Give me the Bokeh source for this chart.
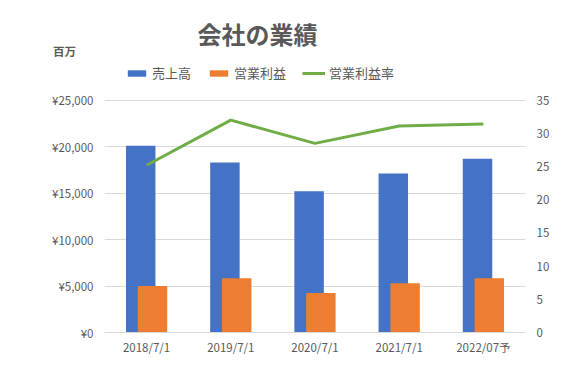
from bokeh.plotting import figure
from bokeh.models import (ColumnDataSource, FactorRange, Range1d, LinearAxis, FixedTicker,
                          Legend, LegendItem, Label, CustomJSTickFormatter)
from bokeh.layouts import column
from bokeh.transform import dodge
from bokeh.embed import file_html
from bokeh.resources import INLINE

# ---- data ----
categories = ["2018/7/1", "2019/7/1", "2020/7/1", "2021/7/1", "2022/07予"]
sales = [20100, 18300, 15200, 17100, 18700]          # 売上高 (百万円)
profit = [5000, 5850, 4250, 5300, 5850]               # 営業利益 (百万円)
margin = [25.2, 32.0, 28.5, 31.1, 31.4]               # 営業利益率 (%)
left_ticks = [0, 5000, 10000, 15000, 20000, 25000]
right_ticks = [0, 5, 10, 15, 20, 25, 30, 35]
series_names = ["売上高", "営業利益", "営業利益率"]
title_text = "会社の業績"
unit_text = "百万"

FONT = "Noto Sans CJK JP"
TXT = "#595959"
GRID = "#d9d9d9"
BLUE, ORANGE, GREEN = "#4472c4", "#ed7d31", "#70ad47"

W = 552
HEAD_H = 60          # header height (title + unit)
MAIN_H = 297         # main figure height
FRAME_H = 274        # plot frame height (top part holds the legend)
GRID_H = 234         # pixel height of the 0..25000 span

# ---------- header (title, unit) ----------
h = figure(width=W, height=HEAD_H, output_backend="svg", toolbar_location=None,
           x_range=Range1d(0, W), y_range=Range1d(HEAD_H, 0),
           x_axis_type=None, y_axis_type=None,
           min_border_left=0, min_border_right=0, min_border_top=0, min_border_bottom=0)
try:
    h.frame_align = False
except Exception:
    pass
h.outline_line_color = None
h.xgrid.grid_line_color = None
h.ygrid.grid_line_color = None

h.add_layout(Label(x=257, y=33, text=title_text, text_align="center", text_baseline="middle",
                   text_font=FONT, text_font_size="24px", text_font_style="bold",
                   text_color=TXT))
h.add_layout(Label(x=64, y=50, text=unit_text, text_align="center", text_baseline="middle",
                   text_font=FONT, text_font_size="11.5px", text_font_style="bold",
                   text_color=TXT))

# ---------- main chart ----------
src = ColumnDataSource(dict(cat=categories, sales=sales, profit=profit, margin=margin))

p = figure(width=W, height=MAIN_H, output_backend="svg", toolbar_location=None,
           x_range=FactorRange(*categories, range_padding=0, factor_padding=0),
           y_range=Range1d(0, 25000 * FRAME_H / GRID_H),
           min_border_left=104, min_border_right=22, min_border_top=0, min_border_bottom=23)
try:
    p.frame_align = False
except Exception:
    pass
p.outline_line_color = None
p.extra_y_ranges = {"pct": Range1d(0, 35 * FRAME_H / GRID_H)}

b1 = p.vbar(x=dodge("cat", -0.07, range=p.x_range), top="sales", width=0.35,
            source=src, color=BLUE, line_color=None)
b2 = p.vbar(x=dodge("cat", 0.07, range=p.x_range), top="profit", width=0.35,
            source=src, color=ORANGE, line_color=None)
ln = p.line(x="cat", y="margin", source=src, y_range_name="pct",
            line_color=GREEN, line_width=3)

p.yaxis.ticker = FixedTicker(ticks=left_ticks)
p.yaxis.formatter = CustomJSTickFormatter(code="return '¥' + tick.toLocaleString('en-US');")
ax_r = LinearAxis(y_range_name="pct", ticker=FixedTicker(ticks=right_ticks))
p.add_layout(ax_r, "right")

for ax in [p.yaxis[0], ax_r]:
    ax.axis_line_color = None
    ax.major_tick_line_color = None
    ax.minor_tick_line_color = None
    ax.major_tick_out = 0
    ax.major_tick_in = 0
    ax.major_label_text_font = FONT
    ax.major_label_text_font_size = "11.5px"
    ax.major_label_text_color = TXT
p.yaxis[0].major_label_standoff = 11
ax_r.major_label_standoff = 11

xa = p.xaxis[0]
xa.axis_line_color = GRID
xa.major_tick_line_color = None
xa.minor_tick_line_color = None
xa.major_tick_out = 0
xa.major_tick_in = 0
xa.major_label_standoff = 6
xa.major_label_text_font = FONT
xa.major_label_text_font_size = "11.5px"
xa.major_label_text_color = TXT

p.xgrid.grid_line_color = None
p.ygrid.grid_line_color = GRID
p.ygrid.ticker = FixedTicker(ticks=left_ticks)

legend = Legend(items=[LegendItem(label=series_names[0], renderers=[b1]),
                       LegendItem(label=series_names[1], renderers=[b2]),
                       LegendItem(label=series_names[2], renderers=[ln])],
                orientation="horizontal", location=(21, 250),
                glyph_width=23, glyph_height=8, label_height=8, label_standoff=4,
                spacing=16, padding=0, margin=0, border_line_color=None,
                background_fill_alpha=0, label_text_font=FONT,
                label_text_font_size="13px", label_text_color=TXT,
                label_text_baseline="middle")
p.add_layout(legend, "center")

layout = column(h, p, spacing=0)
open("out.html", "w").write(file_html(layout, INLINE))
